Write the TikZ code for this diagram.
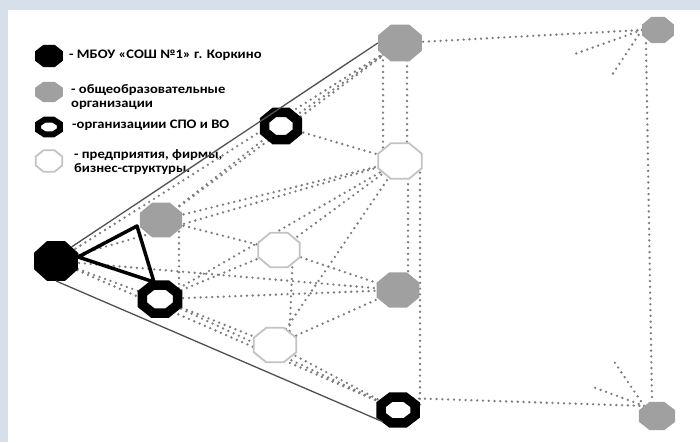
\documentclass[tikz,border=0pt]{standalone}
\usepackage{fontspec}
\setmainfont{Carlito}
\usetikzlibrary{shapes.geometric,backgrounds}
\definecolor{frameblue}{RGB}{214,223,234}
\definecolor{octgray}{RGB}{160,160,160}
\definecolor{dotgray}{RGB}{125,125,125}
\definecolor{wedge}{RGB}{195,195,195}
\definecolor{solidline}{RGB}{80,80,80}
\begin{document}
\begin{tikzpicture}[x=1pt,y=-1pt,
  oct/.style 2 args={regular polygon, regular polygon sides=8, inner sep=0pt, minimum size=#1, yscale=#2},
  blackoct/.style 2 args={oct={#1}{#2}, fill=black},
  grayoct/.style 2 args={oct={#1}{#2}, fill=octgray},
  ringoct/.style 2 args={oct={#1}{#2}, draw=black, line width=9.5pt, fill=white},
  legring/.style 2 args={oct={#1}{#2}, draw=black, line width=6pt, fill=white},
  whiteoct/.style 2 args={oct={#1}{#2}, draw=wedge, line width=1.8pt, fill=white},
  dotedge/.style={draw=dotgray, line width=2.6pt, line cap=round, dash pattern=on 0pt off 5.8pt},
  solidedge/.style={draw=solidline, line width=1.3pt},
  triedge/.style={draw=black, line width=3.5pt, line join=round},
  legtext/.style={anchor=west, font=\bfseries\fontsize{13}{14}\selectfont, align=left, inner sep=0pt, xscale=1.12}
]
\useasboundingbox (0,0) rectangle (700,442);

% main nodes
\node[blackoct={47.6}{0.9}] (K) at (56,261) {};
\node[grayoct={47.6}{0.84}] (G1) at (400,43) {};
\node[grayoct={34.6}{0.82}] (G2) at (658,30) {};
\node[grayoct={45.5}{0.83}] (G3) at (161,220) {};
\node[grayoct={46.5}{0.82}] (G4) at (398,290) {};
\node[grayoct={39}{0.78}] (G5) at (657,416) {};
\node[ringoct={35.7}{0.82}] (V1) at (281,126) {};
\node[ringoct={37.9}{0.8}] (V2) at (160,299) {};
\node[ringoct={36.8}{0.76}] (V3) at (398,410) {};
\node[whiteoct={47}{0.82}] (W1) at (400,161) {};
\node[whiteoct={45}{0.83}] (W2) at (279,250) {};
\node[whiteoct={46}{0.81}] (W3) at (275,345) {};

% free ends of the short fan lines
\coordinate (f1) at (572,55);
\coordinate (f2) at (610,78);
\coordinate (f3) at (613,360);
\coordinate (f4) at (593,387);

% legend
\node[blackoct={30.3}{0.79}] (LK) at (49,56) {};
\node[grayoct={30.3}{0.72}] (LG) at (49,92) {};
\node[legring={23.8}{0.66}] (LV) at (49,127) {};
\node[whiteoct={28.7}{0.81}] (LW) at (49,161) {};
\node[legtext] (T1) at (69,55) {- МБОУ «СОШ №1» г. Коркино};
\node[legtext] (T2) at (71,97) {- общеобразовательные\\организации};
\node[legtext] (T3) at (72,125) {-организациии СПО и ВО};
\node[legtext] (T4) at (74,162) {- предприятия, фирмы,\\бизнес-структуры.};

\begin{scope}[on background layer]
  \fill[frameblue] (0,0) rectangle (700,442);
  \fill[white] (8,10) rectangle (700,442);
  \draw[dotedge] (K.center) -- (G1.center);
  \draw[dotedge] (K.center) -- (V3.center);
  \draw[dotedge] (K.center) -- (V2.center);
  \draw[dotedge] (K.center) -- (G4.center);
  \draw[dotedge] (K.center) -- (W1.center);
  \draw[dotedge] (G3.center) -- (G1.center);
  \draw[dotedge] (G3.center) -- (V1.center);
  \draw[dotedge] (G3.center) -- (W1.center);
  \draw[dotedge] (G3.center) -- (W2.center);
  \draw[dotedge] ([xshift=18pt]G3.center) -- ([xshift=19pt]V2.center);
  \draw[dotedge] (V1.center) -- (G1.center);
  \draw[dotedge] (V1.center) -- (W1.center);
  \draw[dotedge] ([xshift=-17pt]G1.center) -- ([xshift=-17pt]W1.center);
  \draw[dotedge] ([xshift=7pt]G1.center) -- ([xshift=7pt]W1.center);
  \draw[dotedge] (G1.center) -- (G2.west);
  \draw[dotedge] ([xshift=-12pt]G2.south) -- ([xshift=-5pt]G5.north);
  \draw[dotedge] (G2.west) -- (f1);
  \draw[dotedge] (G2.west) -- (f2);
  \draw[dotedge] (G5.north west) -- (f3);
  \draw[dotedge] (G5.north west) -- (f4);
  \draw[dotedge] (V3.north east) -- (G5.north west);
  \draw[dotedge] ([xshift=8pt]W1.center) -- ([xshift=10pt]G4.center);
  \draw[dotedge] ([xshift=20pt]W1.center) -- ([xshift=22pt]V3.center);
  \draw[dotedge] (W1.center) -- (W2.center);
  \draw[dotedge] (W1.center) -- (W3.center);
  \draw[dotedge] (W1.center) -- (V2.center);
  \draw[dotedge] (V2.center) -- (W2.center);
  \draw[dotedge] (V2.center) -- (G4.center);
  \draw[dotedge] (V2.center) -- (W3.center);
  \draw[dotedge] (V2.center) -- (V3.center);
  \draw[dotedge] ([xshift=14pt]W2.center) -- ([xshift=14pt]W3.center);
  \draw[dotedge] (W2.center) -- (G4.center);
  \draw[dotedge] (W3.center) -- (G4.center);
  \draw[dotedge] (W3.center) -- (V3.center);
\end{scope}

% solid outline and thick triangle
\draw[solidedge] (K.north east) -- (G1.west);
\draw[solidedge] (K.south) -- (V3.south west);
\coordinate (ta) at (137,226);
\coordinate (tb) at (154,282);
\draw[triedge] ([yshift=4pt]K.east) -- (ta) -- (tb) -- cycle;
\end{tikzpicture}
\end{document}
